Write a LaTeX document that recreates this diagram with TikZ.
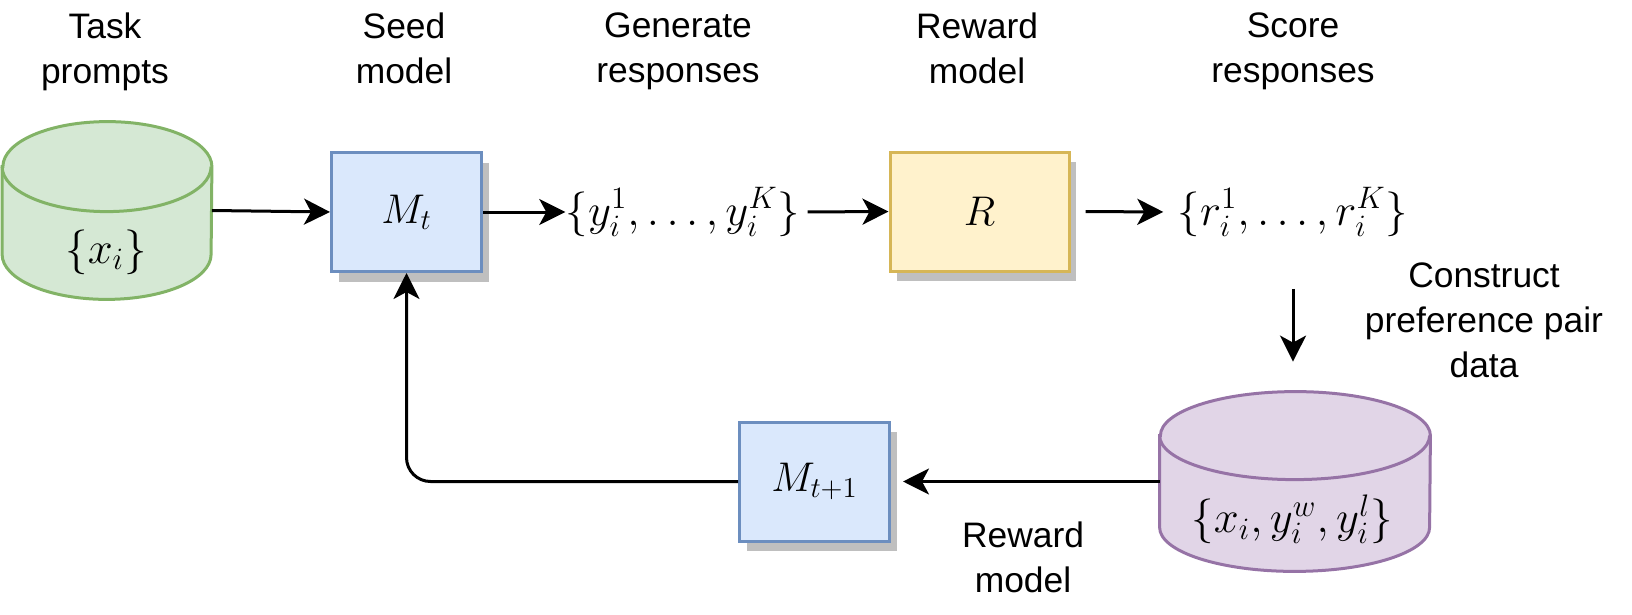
\documentclass[tikz,border=0pt]{standalone}
\usepackage[no-math]{fontspec}
\setmainfont{Liberation Sans}
\usepackage{xcolor}
\usepackage{tikz}
\usetikzlibrary{calc, shadows, arrows.meta}
\definecolor{loopGreen}{HTML}{D5E8D4}
\definecolor{loopGreenLine}{HTML}{82B366}
\definecolor{loopBlue}{HTML}{DAE8FC}
\definecolor{loopBlueLine}{HTML}{6C8EBF}
\definecolor{loopYellow}{HTML}{FFF2CC}
\definecolor{loopYellowLine}{HTML}{D6B656}
\definecolor{loopPurple}{HTML}{E1D5E7}
\definecolor{loopPurpleLine}{HTML}{9673A6}
\definecolor{loopShadow}{HTML}{BFBFBF}

\begin{document}
\begin{tikzpicture}[x=0.5pt, y=-0.5pt,
    flow/.style={draw=black, line width=1.5pt, -{Stealth[length=13pt, width=13pt, inset=3.5pt]}},
    model/.style={draw=loopBlueLine, fill=loopBlue, line width=1.5pt, inner sep=0pt,
        minimum width=75pt, minimum height=59.5pt, font=\fontsize{20.74pt}{24pt}\selectfont,
        drop shadow={shadow xshift=3.5pt, shadow yshift=-5pt, fill=loopShadow, opacity=1}},
    mathtext/.style={inner sep=0pt, scale=1.08, font=\fontsize{20.74pt}{24pt}\selectfont},
    caption/.style={align=center, anchor=north, inner sep=0pt, font=\fontsize{17.7pt}{22.5pt}\selectfont},
    store/.style={line width=1.5pt}]
    \useasboundingbox (0,0) rectangle (1632,615);

    % step captions
    \node[caption] (taskCap) at (105,12) {Task\\prompts};
    \node[caption] (seedCap) at (404,12) {Seed\\model};
    \node[caption] (genCap) at (678,12) {Generate\\responses};
    \node[caption] (rewardCap) at (977,12) {Reward\\model};
    \node[caption] (scoreCap) at (1293,12) {Score\\responses};
    \node[caption] (pairCap) at (1484,262) {Construct\\preference pair\\data};
    \node[caption] (trainCap) at (1023,521) {Reward\\model};

    % prompt store
    \node[inner sep=0pt, minimum width=104.5pt, minimum height=88.5pt] (prompts) at (107,210.5) {};
    \draw[store, draw=loopGreenLine, fill=loopGreen]
        ([yshift=-22.5pt]prompts.north west) -- ([yshift=22.5pt]prompts.south west)
        arc[start angle=180, end angle=360, x radius=52.25pt, y radius=22.5pt]
        -- ([yshift=-22.5pt]prompts.north east)
        arc[start angle=0, end angle=180, x radius=52.25pt, y radius=22.5pt] -- cycle;
    \draw[store, draw=loopGreenLine]
        ([yshift=-22.5pt]prompts.north west) arc[start angle=180, end angle=360, x radius=52.25pt, y radius=22.5pt];
    \node[mathtext] (promptsTxt) at (106,252) {$\{x_i\}$};

    % preference pair store
    \node[inner sep=0pt, minimum width=135pt, minimum height=89.5pt] (pairs) at (1295,481.5) {};
    \draw[store, draw=loopPurpleLine, fill=loopPurple]
        ([yshift=-22pt]pairs.north west) -- ([yshift=22pt]pairs.south west)
        arc[start angle=180, end angle=360, x radius=67.5pt, y radius=22pt]
        -- ([yshift=-22pt]pairs.north east)
        arc[start angle=0, end angle=180, x radius=67.5pt, y radius=22pt] -- cycle;
    \draw[store, draw=loopPurpleLine]
        ([yshift=-22pt]pairs.north west) arc[start angle=180, end angle=360, x radius=67.5pt, y radius=22pt];
    \node[mathtext] (pairsTxt) at (1292,519) {$\{x_i, y_i^w, y_i^l\}$};

    % models
    \node[model] (Mt) at (406.5,212) {$M_t$};
    \node[model, draw=loopYellowLine, fill=loopYellow, minimum width=89.5pt] (R) at (979.5,211.5) {$R$};
    \node[model] (Mt1) at (814.5,481.5) {$M_{t+1}$};

    % sampled responses and scores
    \node[mathtext] (ys) at (683,212) {$\{y_i^1,\ldots,y_i^K\}$};
    \node[mathtext] (rs) at (1293,212) {$\{r_i^1,\ldots,r_i^K\}$};

    \draw[flow] (prompts.east) -- (Mt.west);
    \draw[flow] (Mt.east) -- (ys.west);
    \draw[flow, shorten <=3.5pt] (ys.east) -- (R.west);
    \draw[flow, shorten <=7.5pt, shorten >=7pt] (R.east) -- (rs.west);
    \draw[flow, shorten <=26pt, shorten >=15pt] (rs.south) -- (rs.south |- pairs.north);
    \draw[flow, shorten >=6pt] (pairs.west) -- (Mt1.east);
    \draw[flow, rounded corners=12pt] (Mt1.west) -| (Mt.south);
\end{tikzpicture}
\end{document}
